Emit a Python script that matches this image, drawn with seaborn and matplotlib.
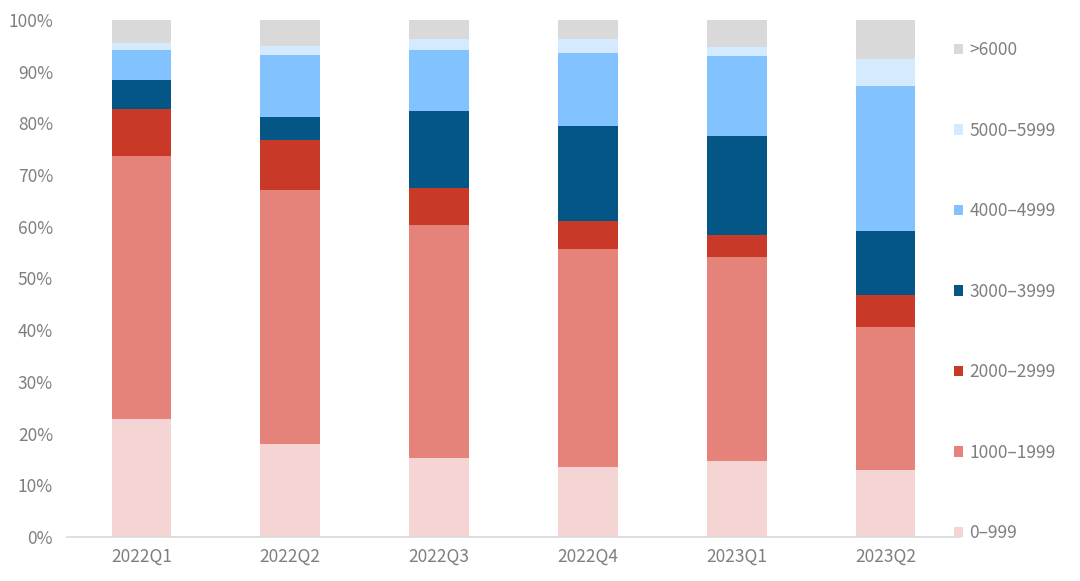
import pandas as pd
import numpy as np
import seaborn as sns
import matplotlib.pyplot as plt
from matplotlib.patches import Patch
from matplotlib.ticker import PercentFormatter

quarters = ['2022Q1', '2022Q2', '2022Q3', '2022Q4', '2023Q1', '2023Q2']
bands = ['0–999', '1000–1999', '2000–2999', '3000–3999', '4000–4999', '5000–5999', '>6000']
colors = ['#F5D5D3', '#E5837A', '#C83927', '#045686', '#82C3FF', '#D4EAFF', '#D9D9D9']

# share (%) of each band per quarter
share_0_999 = [22.8, 17.9, 15.2, 13.5, 14.7, 12.9]
share_1000_1999 = [50.9, 49.2, 45.1, 42.2, 39.5, 27.8]
share_2000_2999 = [9.1, 9.7, 7.1, 5.4, 4.2, 6.2]
share_3000_3999 = [5.6, 4.4, 15.0, 18.3, 19.2, 12.3]
share_4000_4999 = [5.8, 12.0, 11.8, 14.3, 15.5, 28.0]
share_5000_5999 = [1.4, 1.8, 2.1, 2.6, 1.7, 5.3]
share_6000_plus = [4.4, 5.0, 3.7, 3.7, 5.2, 7.5]

df = pd.DataFrame({
    bands[0]: share_0_999,
    bands[1]: share_1000_1999,
    bands[2]: share_2000_2999,
    bands[3]: share_3000_3999,
    bands[4]: share_4000_4999,
    bands[5]: share_5000_5999,
    bands[6]: share_6000_plus,
}, index=quarters)
# normalise to 100%
df = df.div(df.sum(axis=1), axis=0) * 100
cum = df.cumsum(axis=1)

sns.set_style('white')
plt.rcParams['font.family'] = ['Noto Sans CJK SC', 'DejaVu Sans']
text_color = '#7F7F7F'

fig = plt.figure(figsize=(10.8, 5.81), dpi=100)
ax = fig.add_axes([0.062, 0.0757, 0.827, 0.89])

# stacked bars: draw cumulative totals from the top band down
for band, color in reversed(list(zip(bands, colors))):
    sns.barplot(x=quarters, y=cum[band].values, color=color, width=0.4,
                saturation=1, ax=ax, edgecolor='none')

ax.set_ylim(0, 100)
ax.set_xlim(-0.5, 5.5)
ax.set_yticks(np.arange(0, 101, 10))
ax.yaxis.set_major_formatter(PercentFormatter(decimals=0))
ax.tick_params(axis='both', length=0, labelsize=12.5, colors=text_color)
ax.tick_params(axis='x', pad=8)
ax.tick_params(axis='y', pad=10)
for s in ['top', 'right', 'left']:
    ax.spines[s].set_visible(False)
ax.spines['bottom'].set_color('#D9D9D9')
ax.spines['bottom'].set_linewidth(1.2)
ax.set_xlabel('')
ax.set_ylabel('')

handles = [Patch(facecolor=c, edgecolor='none', label=b) for b, c in zip(bands, colors)]
leg = ax.legend(handles=handles[::-1], loc='upper left', bbox_to_anchor=(0.985, 0.972),
                frameon=False, fontsize=12.5, labelspacing=3.6, handlelength=0.55,
                handleheight=0.55, handletextpad=0.35, borderaxespad=0)
for t in leg.get_texts():
    t.set_color(text_color)

fig.savefig('out.png', dpi=100)
